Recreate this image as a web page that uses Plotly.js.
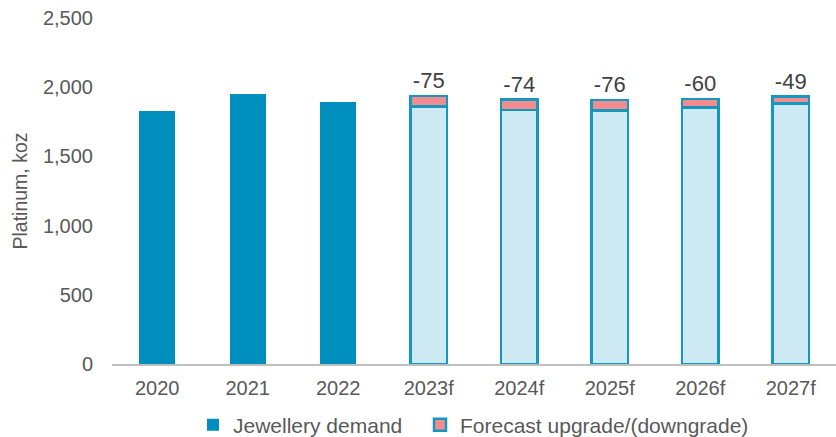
<!DOCTYPE html>
<html>
<head>
<meta charset="utf-8">
<script src="https://cdn.plot.ly/plotly-3.0.1.min.js"></script>
<style>html,body{margin:0;padding:0;background:#fff;}#chart{width:836px;height:437px;}</style>
</head>
<body>
<div id="chart"></div>
<script>
var categories = ["2020", "2021", "2022", "2023f", "2024f", "2025f", "2026f", "2027f"];
var histYears = ["2020", "2021", "2022"];
var histDemand = [1830, 1951, 1895];
var fcYears = ["2023f", "2024f", "2025f", "2026f", "2027f"];
var fcDemand = [1860, 1836, 1832, 1855, 1883];
var fcRevision = [-75, -74, -76, -60, -49];
var yTicks = [0, 500, 1000, 1500, 2000, 2500];
var yTickLabels = ["0", "500", "1,000", "1,500", "2,000", "2,500"];

var edge = "#1597c0";
var fontFam = "Liberation Sans, Arial, sans-serif";
var traces = [
  {
    type: "bar", name: "Jewellery demand", x: histYears, y: histDemand,
    legend: "legend",
    marker: {color: "#008fbd", line: {color: "#008fbd", width: 0}}
  },
  {
    type: "bar", name: "Jewellery demand (forecast)", x: fcYears, y: fcDemand,
    showlegend: false,
    marker: {color: "#cde9f3", line: {color: edge, width: 2.5}}
  },
  {
    type: "bar", name: "Forecast upgrade/(downgrade)", x: fcYears,
    y: fcRevision.map(function (v) { return Math.abs(v); }),
    text: fcRevision.map(function (v) { return String(v); }),
    textposition: "outside", cliponaxis: false,
    legend: "legend2",
    textfont: {family: fontFam, size: 22, color: "#404040"},
    marker: {color: "#f28c8e", line: {color: edge, width: 2.5}}
  }
];

var plotL = 112, plotW = 836 - 112, plotB = 364, plotH = 364 - 18;
function px2x(px) { return (px - plotL) / plotW; }
function py2y(py) { return (plotB - py) / plotH; }

var layout = {
  width: 836, height: 437,
  margin: {l: 112, r: 0, t: 18, b: 73, autoexpand: false},
  barmode: "stack", bargap: 0.6,
  paper_bgcolor: "#ffffff", plot_bgcolor: "#ffffff",
  font: {family: fontFam, size: 20, color: "#595959"},
  showlegend: true,
  legend: {orientation: "h", x: px2x(193), xanchor: "left",
           y: py2y(425), yanchor: "middle",
           font: {size: 21, color: "#595959"}},
  legend2: {orientation: "h", x: px2x(420), xanchor: "left",
           y: py2y(425), yanchor: "middle",
           font: {size: 21, color: "#595959"}},
  xaxis: {
    type: "category", categoryorder: "array", categoryarray: categories,
    showline: true, linecolor: "#bfbfbf", linewidth: 1.5,
    ticks: "", showgrid: false, tickfont: {size: 20, color: "#595959"},
    ticklabelstandoff: 5
  },
  yaxis: {
    range: [0, 2500], tickvals: yTicks, ticktext: yTickLabels,
    showgrid: false, zeroline: false, showline: false, ticks: "",
    tickfont: {size: 20, color: "#595959"}, ticklabelstandoff: 18,
    title: {text: "Platinum, koz", font: {size: 19.5, color: "#595959"}, standoff: 10}
  }
};

Plotly.newPlot("chart", traces, layout, {displayModeBar: false, staticPlot: true});
</script>
</body>
</html>
